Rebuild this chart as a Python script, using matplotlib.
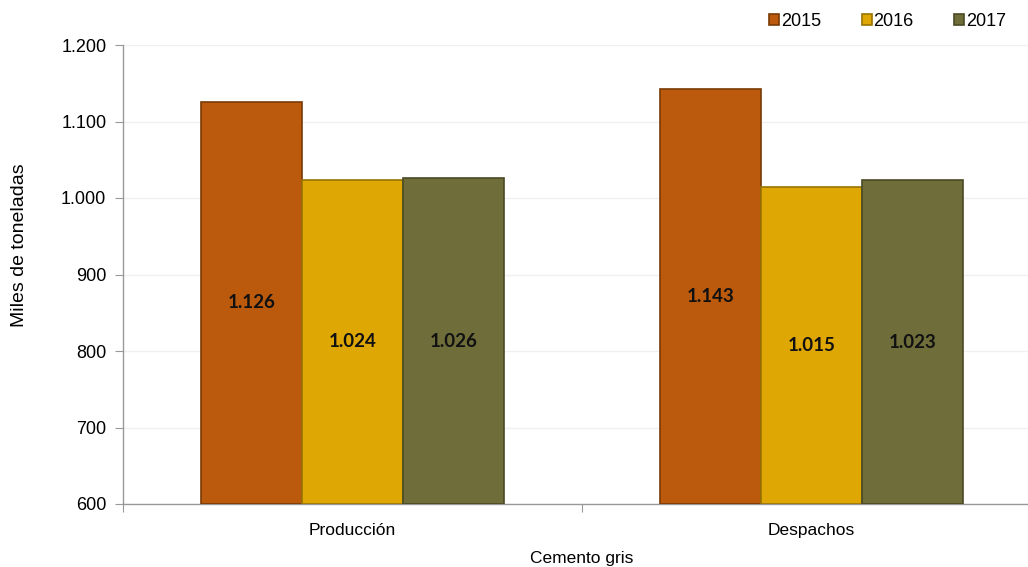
import matplotlib
matplotlib.use("Agg")
import matplotlib.pyplot as plt
import numpy as np

categories = ["Producción", "Despachos"]
years = ["2015", "2016", "2017"]
values_2015 = [1126, 1143]
values_2016 = [1024, 1015]
values_2017 = [1026, 1023]
labels_2015 = ["1.126", "1.143"]
labels_2016 = ["1.024", "1.015"]
labels_2017 = ["1.026", "1.023"]
yticks = [600, 700, 800, 900, 1000, 1100, 1200]
ytick_labels = ["600", "700", "800", "900", "1.000", "1.100", "1.200"]

colors = ["#BB5A0D", "#DFA703", "#6F6E3A"]
edges = ["#7A3A06", "#9A7402", "#4A4A25"]

plt.rcParams['font.family'] = ['Liberation Sans', 'DejaVu Sans']

fig = plt.figure(figsize=(10.28, 5.67), dpi=100)
ax = fig.add_axes([123/1028, 63/567, 918/1028, 459/567])

series = [values_2015, values_2016, values_2017]
series_labels = [labels_2015, labels_2016, labels_2017]
x = np.arange(len(categories)) + 0.5
w = 0.2205
offsets = [-w, 0, w]
ymin = 600
for i, (vals, labs) in enumerate(zip(series, series_labels)):
    vals = np.array(vals)
    bars = ax.bar(x + offsets[i], vals - ymin, bottom=ymin, width=w,
                  color=colors[i], edgecolor=edges[i], linewidth=1.2,
                  label=years[i], zorder=3)
    for b, v, lab in zip(bars, vals, labs):
        ax.text(b.get_x() + b.get_width() / 2, (ymin + v) / 2, lab,
                ha='center', va='center', fontsize=13.5, fontweight='bold',
                family=['Lato', 'DejaVu Sans'], color='#111111', zorder=4)

ax.set_xlim(0, 2)
ax.set_ylim(600, 1200)
ax.set_yticks(yticks)
ax.set_yticklabels(ytick_labels, fontsize=13)
ax.set_xticks([0, 1, 2])
ax.set_xticklabels([])
ax.set_xticks(x, minor=True)
ax.set_xticklabels(categories, minor=True, fontsize=12.5)
ax.tick_params(axis='x', which='minor', length=0, pad=14)
ax.tick_params(axis='x', which='major', length=6, color='#999999')
ax.tick_params(axis='y', length=6, color='#999999', pad=6)

ax.grid(axis='y', color='#F0F0F0', linewidth=1, zorder=0)
for s in ['top', 'right']:
    ax.spines[s].set_visible(False)
for s in ['left', 'bottom']:
    ax.spines[s].set_color('#999999')
    ax.spines[s].set_linewidth(1)

ax.set_ylabel("Miles de toneladas", fontsize=14)
ax.yaxis.set_label_coords((28 - 123) / 918, (504 - 245) / 459)
ax.set_xlabel("Cemento gris", fontsize=12.5, labelpad=9)

leg = ax.legend(loc='upper left', bbox_to_anchor=((762 - 123) / 918, 1.085), ncol=3,
                frameon=False, fontsize=13, handlelength=0.55, handleheight=0.55,
                handletextpad=0.1, columnspacing=2.25, borderaxespad=0)

fig.savefig("out.png", dpi=100)
